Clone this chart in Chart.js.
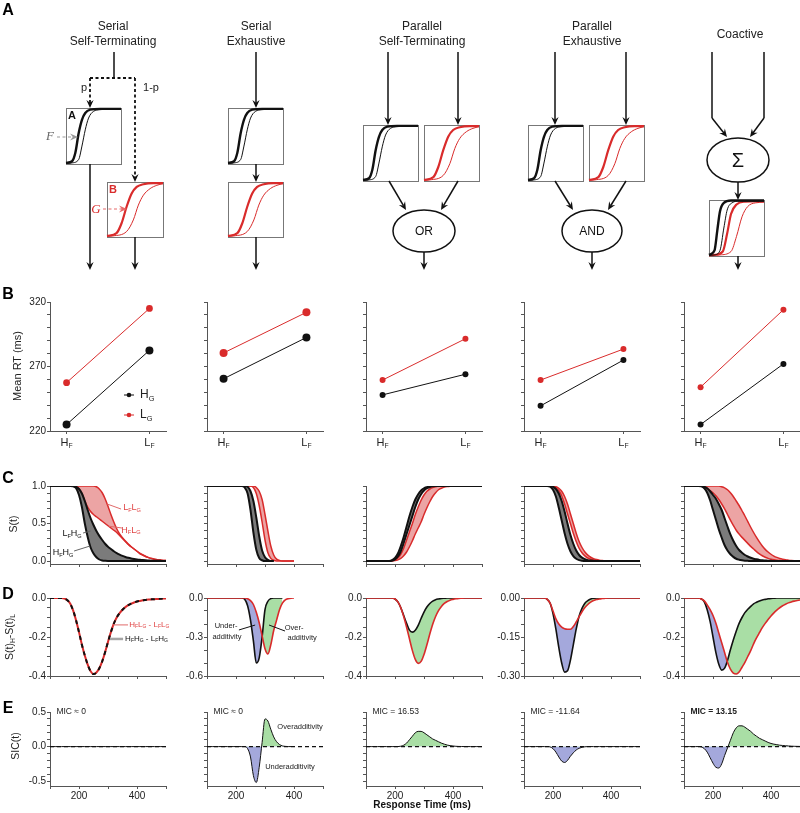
<!DOCTYPE html>
<html>
<head>
<meta charset="utf-8">
<title>Architecture predictions</title>
<script src="https://cdn.jsdelivr.net/npm/chart.js@4.4.1/dist/chart.umd.min.js"></script>
<style>
    body { margin: 0; background: #fff; }
    #fig { position: relative; width: 800px; height: 813px; overflow: hidden; font-family: "Liberation Sans", Arial, sans-serif; color: #222; }
    #fig canvas { position: absolute; }
    .lbl { position: absolute; transform: translate(-50%, -50%); white-space: nowrap; line-height: 1; }
    .lbl sub { font-size: 65%; vertical-align: -0.3em; }
    .letter { font-weight: bold; font-size: 16px; color: #000; }
    .vert { transform: translate(-50%, -50%) rotate(-90deg); font-size: 10.5px; }
</style>
</head>
<body>
<div id="fig"></div>
<script>
// ---- data ----
const MODELS = [['Serial', 'Self-Terminating'], ['Serial', 'Exhaustive'], ['Parallel', 'Self-Terminating'], ['Parallel', 'Exhaustive'], ['Coactive']];

// row B: mean RT (ms), one value per architecture
const RT_HG_HF = [225, 260.5, 248, 239.5, 225];
const RT_HG_LF = [282.5, 292.5, 264, 275, 272];
const RT_LG_HF = [257.5, 280.5, 259.5, 259.5, 254];
const RT_LG_LF = [315, 312, 291.5, 283.5, 314];
const B_TICKS = [220, 230, 240, 250, 260, 270, 280, 290, 300, 310, 320];

// time grid (ms) for rows C, D, E
const T = [100, 110, 120, 130, 140, 150, 160, 170, 180, 190,
    200, 210, 220, 230, 240, 250, 260, 270, 280, 290,
    300, 310, 320, 330, 340, 350, 360, 370, 380, 390,
    400, 410, 420, 430, 440, 450, 460, 470, 480, 490,
    500];
const X_TICKS = [100, 200, 300, 400, 500];

// row C: survivor functions S(t)
const C1_HH = [1, 1, 1, 1, 1, 1, 1, 1, 0.995, 0.97,
    0.88, 0.72, 0.5, 0.32, 0.18, 0.1, 0.05, 0.02, 0.007, 0.002,
    0, 0, 0, 0, 0, 0, 0, 0, 0, 0,
    0, 0, 0, 0, 0, 0, 0, 0, 0, 0,
    0];
const C1_LH = [1, 1, 1, 1, 1, 1, 1, 1, 1, 0.99,
    0.96, 0.9, 0.8, 0.68, 0.57, 0.48, 0.4, 0.335, 0.28, 0.23,
    0.19, 0.16, 0.13, 0.105, 0.085, 0.068, 0.054, 0.043, 0.034, 0.027,
    0.021, 0.016, 0.012, 0.009, 0.007, 0.005, 0.004, 0.003, 0.002, 0.001,
    0.001];
const C1_HL = [1, 1, 1, 1, 1, 1, 1, 1, 1, 0.99,
    0.96, 0.9, 0.8, 0.72, 0.66, 0.62, 0.59, 0.56, 0.53, 0.5,
    0.47, 0.44, 0.41, 0.38, 0.34, 0.3, 0.26, 0.22, 0.19, 0.16,
    0.13, 0.1, 0.08, 0.06, 0.045, 0.033, 0.024, 0.017, 0.012, 0.008,
    0.005];
const C1_LL = [1, 1, 1, 1, 1, 1, 1, 1, 1, 1,
    1, 1, 1, 1, 1, 1, 0.99, 0.96, 0.91, 0.83,
    0.73, 0.62, 0.52, 0.43, 0.36, 0.31, 0.265, 0.225, 0.19, 0.16,
    0.13, 0.1, 0.08, 0.06, 0.045, 0.033, 0.024, 0.017, 0.012, 0.008,
    0.005];

const C2_HH = [1, 1, 1, 1, 1, 1, 1, 1, 1, 1,
    1, 1, 1, 0.98, 0.9, 0.68, 0.38, 0.15, 0.04, 0.01,
    0, 0, 0, 0, null, null, null, null, null, null,
    null, null, null, null, null, null, null, null, null, null,
    null];
const C2_LH = [1, 1, 1, 1, 1, 1, 1, 1, 1, 1,
    1, 1, 1, 1, 0.99, 0.93, 0.8, 0.58, 0.33, 0.14,
    0.05, 0.015, 0, 0, null, null, null, null, null, null,
    null, null, null, null, null, null, null, null, null, null,
    null];
const C2_HL = [1, 1, 1, 1, 1, 1, 1, 1, 1, 1,
    1, 1, 1, 1, 1, 1, 0.98, 0.9, 0.74, 0.52,
    0.28, 0.11, 0.035, 0.01, 0, 0, 0, 0, 0, 0,
    0, null, null, null, null, null, null, null, null, null,
    null];
const C2_LL = [1, 1, 1, 1, 1, 1, 1, 1, 1, 1,
    1, 1, 1, 1, 1, 1, 1, 0.98, 0.93, 0.82,
    0.62, 0.4, 0.2, 0.08, 0.025, 0.008, 0, 0, 0, 0,
    0, null, null, null, null, null, null, null, null, null,
    null];

const C3_HH = [0, 0, 0, 0, 0, 0, 0, 0, 0, 0.01,
    0.04, 0.1, 0.2, 0.32, 0.46, 0.6, 0.72, 0.82, 0.89, 0.94,
    0.97, 0.985, 0.995, 1, 1, 1, 1, 1, 1, 1,
    1, 1, 1, 1, 1, 1, 1, 1, 1, 1,
    1];
const C3_LH = [0, 0, 0, 0, 0, 0, 0, 0, 0, 0.005,
    0.02, 0.06, 0.13, 0.24, 0.36, 0.48, 0.6, 0.72, 0.82, 0.89,
    0.94, 0.97, 0.985, 0.995, 1, 1, 1, 1, 1, 1,
    1, 1, 1, 1, 1, 1, 1, 1, 1, 1,
    1];
const C3_HL = [0, 0, 0, 0, 0, 0, 0, 0, 0, 0.005,
    0.015, 0.04, 0.09, 0.17, 0.28, 0.39, 0.5, 0.62, 0.72, 0.81,
    0.88, 0.93, 0.96, 0.98, 0.99, 1, 1, 1, 1, 1,
    1, 1, 1, 1, 1, 1, 1, 1, 1, 1,
    1];
const C3_LL = [0, 0, 0, 0, 0, 0, 0, 0, 0, 0,
    0.005, 0.015, 0.035, 0.07, 0.12, 0.19, 0.27, 0.36, 0.44, 0.52,
    0.62, 0.71, 0.79, 0.86, 0.91, 0.95, 0.97, 0.985, 0.993, 0.998,
    1, 1, 1, 1, 1, 1, 1, 1, 1, 1,
    1];

const C4_HH = [1, 1, 1, 1, 1, 1, 1, 1, 1, 0.99,
    0.95, 0.86, 0.71, 0.54, 0.37, 0.23, 0.13, 0.065, 0.03, 0.012,
    0.004, 0, 0, 0, 0, 0, 0, 0, 0, 0,
    0, 0, 0, 0, 0, 0, 0, 0, 0, 0,
    0];
const C4_LH = [1, 1, 1, 1, 1, 1, 1, 1, 1, 1,
    0.99, 0.96, 0.9, 0.8, 0.66, 0.5, 0.35, 0.23, 0.14, 0.08,
    0.045, 0.024, 0.012, 0.006, 0.003, 0.001, 0, 0, 0, 0,
    0, 0, 0, 0, 0, 0, 0, 0, 0, 0,
    0];
const C4_HL = [1, 1, 1, 1, 1, 1, 1, 1, 1, 1,
    0.995, 0.98, 0.94, 0.87, 0.76, 0.63, 0.5, 0.37, 0.26, 0.17,
    0.11, 0.068, 0.04, 0.023, 0.013, 0.007, 0.004, 0.002, 0.001, 0,
    0, 0, 0, 0, 0, 0, 0, 0, 0, 0,
    0];
const C4_LL = [1, 1, 1, 1, 1, 1, 1, 1, 1, 1,
    1, 0.99, 0.97, 0.93, 0.86, 0.76, 0.63, 0.5, 0.37, 0.26,
    0.18, 0.12, 0.078, 0.05, 0.031, 0.019, 0.011, 0.006, 0.003, 0.002,
    0.001, 0, 0, 0, 0, 0, 0, 0, 0, 0,
    0];

const C5_HH = [1, 1, 1, 1, 1, 1, 0.995, 0.97, 0.91, 0.81,
    0.68, 0.55, 0.42, 0.31, 0.21, 0.14, 0.09, 0.055, 0.03, 0.017,
    0.009, 0.004, 0.002, 0, 0, 0, 0, 0, 0, 0,
    0, 0, 0, 0, 0, 0, 0, 0, 0, 0,
    0];
const C5_LH = [1, 1, 1, 1, 1, 1, 1, 0.99, 0.97, 0.93,
    0.88, 0.83, 0.76, 0.68, 0.57, 0.46, 0.355, 0.27, 0.2, 0.147,
    0.11, 0.08, 0.06, 0.043, 0.03, 0.022, 0.015, 0.01, 0.007, 0.004,
    0.002, 0, 0, 0, 0, 0, 0, 0, 0, 0,
    0];
const C5_HL = [1, 1, 1, 1, 1, 1, 1, 0.99, 0.965, 0.94,
    0.91, 0.87, 0.82, 0.76, 0.695, 0.62, 0.545, 0.475, 0.41, 0.36,
    0.315, 0.275, 0.235, 0.195, 0.16, 0.125, 0.095, 0.07, 0.05, 0.035,
    0.024, 0.016, 0.01, 0.006, 0.004, 0.002, 0.001, 0, 0, 0,
    0];
const C5_LL = [1, 1, 1, 1, 1, 1, 1, 1, 1, 1,
    1, 1, 1, 0.99, 0.975, 0.95, 0.91, 0.86, 0.8, 0.74,
    0.67, 0.6, 0.525, 0.45, 0.38, 0.315, 0.255, 0.2, 0.155, 0.12,
    0.09, 0.066, 0.048, 0.034, 0.024, 0.016, 0.011, 0.007, 0.004, 0.002,
    0.001];
const C_TICKS = [0, 0.1, 0.2, 0.3, 0.4, 0.5, 0.6, 0.7, 0.8, 0.9, 1];

// row D: S(t)H - S(t)L, black = HG pair, red = LG pair
const D1_H = [0, 0, 0, 0, 0, -0.003, -0.012, -0.03, -0.065, -0.115,
    -0.175, -0.24, -0.295, -0.342, -0.376, -0.39, -0.382, -0.36, -0.325, -0.278,
    -0.225, -0.175, -0.132, -0.1, -0.078, -0.06, -0.047, -0.037, -0.029, -0.023,
    -0.018, -0.015, -0.012, -0.01, -0.008, -0.007, -0.006, -0.005, -0.004, -0.003,
    -0.003];
const D1_L = [0, 0, 0, 0, 0, -0.003, -0.012, -0.03, -0.065, -0.115,
    -0.175, -0.24, -0.295, -0.342, -0.376, -0.39, -0.382, -0.36, -0.325, -0.278,
    -0.225, -0.175, -0.132, -0.1, -0.078, -0.06, -0.047, -0.037, -0.029, -0.023,
    -0.018, -0.015, -0.012, -0.01, -0.008, -0.007, -0.006, -0.005, -0.004, -0.003,
    -0.003];
const D2_H = [0, 0, 0, 0, 0, 0, 0, 0, 0, 0,
    0, 0, 0, -0.01, -0.06, -0.17, -0.33, -0.5, -0.46, -0.3,
    -0.09, -0.025, -0.005, 0, 0, 0, 0, null, null, null,
    null, null, null, null, null, null, null, null, null, null,
    null];
const D2_L = [0, 0, 0, 0, 0, 0, 0, 0, 0, 0,
    0, 0, 0, 0, -0.005, -0.02, -0.05, -0.11, -0.19, -0.29,
    -0.39, -0.43, -0.36, -0.25, -0.17, -0.09, -0.04, -0.015, -0.005, -0.001,
    0, null, null, null, null, null, null, null, null, null,
    null];
const D3_H = [0, 0, 0, 0, 0, 0, 0, 0, 0, 0,
    -0.005, -0.02, -0.05, -0.09, -0.13, -0.165, -0.175, -0.165, -0.14, -0.105,
    -0.072, -0.046, -0.028, -0.016, -0.009, -0.005, -0.002, -0.001, 0, 0,
    0, 0, 0, 0, 0, 0, 0, 0, 0, 0,
    0];
const D3_L = [0, 0, 0, 0, 0, 0, 0, 0, 0, 0,
    -0.005, -0.02, -0.05, -0.095, -0.15, -0.21, -0.27, -0.315, -0.335, -0.325,
    -0.29, -0.24, -0.185, -0.135, -0.095, -0.065, -0.043, -0.028, -0.018, -0.011,
    -0.007, -0.004, -0.002, -0.001, 0, 0, 0, 0, 0, 0,
    0];
const D4_H = [0, 0, 0, 0, 0, 0, 0, 0, -0.005, -0.02,
    -0.06, -0.12, -0.19, -0.25, -0.285, -0.28, -0.24, -0.18, -0.12, -0.07,
    -0.04, -0.02, -0.01, -0.004, -0.001, 0, 0, 0, 0, 0,
    0, 0, 0, 0, 0, 0, 0, 0, 0, 0,
    0];
const D4_L = [0, 0, 0, 0, 0, 0, 0, 0, -0.005, -0.02,
    -0.05, -0.08, -0.1, -0.112, -0.118, -0.12, -0.12, -0.11, -0.092, -0.072,
    -0.053, -0.037, -0.025, -0.016, -0.01, -0.006, -0.004, -0.002, -0.001, 0,
    0, 0, 0, 0, 0, 0, 0, 0, 0, 0,
    0];
const D5_H = [0, 0, 0, 0, 0, 0, -0.005, -0.02, -0.06, -0.12,
    -0.2, -0.28, -0.34, -0.37, -0.36, -0.32, -0.265, -0.215, -0.17, -0.13,
    -0.1, -0.075, -0.058, -0.043, -0.03, -0.022, -0.015, -0.01, -0.007, -0.004,
    -0.002, -0.001, 0, 0, 0, 0, 0, 0, 0, 0,
    0];
const D5_L = [0, 0, 0, 0, 0, 0, -0.005, -0.015, -0.035, -0.06,
    -0.09, -0.13, -0.18, -0.23, -0.28, -0.33, -0.365, -0.385, -0.39, -0.38,
    -0.355, -0.33, -0.3, -0.27, -0.235, -0.205, -0.178, -0.152, -0.13, -0.11,
    -0.092, -0.076, -0.062, -0.05, -0.04, -0.032, -0.025, -0.02, -0.016, -0.013,
    -0.01];
const D_MIN = [-0.4, -0.6, -0.4, -0.3, -0.4];
const D_TICKS = [
    [0, -0.05, -0.1, -0.15, -0.2, -0.25, -0.3, -0.35, -0.4],
    [0, -0.1, -0.2, -0.3, -0.4, -0.5, -0.6],
    [0, -0.05, -0.1, -0.15, -0.2, -0.25, -0.3, -0.35, -0.4],
    [0, -0.05, -0.1, -0.15, -0.2, -0.25, -0.3],
    [0, -0.05, -0.1, -0.15, -0.2, -0.25, -0.3, -0.35, -0.4]
];
const D_LABELS = [
    {0: '0.0', '-0.2': '-0.2', '-0.4': '-0.4'},
    {0: '0.0', '-0.3': '-0.3', '-0.6': '-0.6'},
    {0: '0.0', '-0.2': '-0.2', '-0.4': '-0.4'},
    {0: '0.00', '-0.15': '-0.15', '-0.3': '-0.30'},
    {0: '0.0', '-0.2': '-0.2', '-0.4': '-0.4'}
];

// row E: survivor interaction contrast
const E1 = [0, 0, 0, 0, 0, 0, 0, 0, 0, 0,
    0, 0, 0, 0, 0, 0, 0, 0, 0, 0,
    0, 0, 0, 0, 0, 0, 0, 0, 0, 0,
    0, 0, 0, 0, 0, 0, 0, 0, 0, 0,
    0];
const E2 = [0, 0, 0, 0, 0, 0, 0, 0, 0, 0,
    0, 0, 0, 0, -0.03, -0.15, -0.42, -0.52, -0.3, 0.06,
    0.4, 0.37, 0.25, 0.14, 0.07, 0.03, 0.01, 0.003, 0, 0,
    null, null, null, null, null, null, null, null, null, null,
    null];
const E3 = [0, 0, 0, 0, 0, 0, 0, 0, 0, 0,
    0, 0, 0.005, 0.02, 0.05, 0.1, 0.15, 0.2, 0.22, 0.22,
    0.2, 0.17, 0.14, 0.11, 0.09, 0.07, 0.05, 0.035, 0.022, 0.014,
    0.008, 0.004, 0.002, 0.001, 0, 0, 0, 0, 0, 0,
    0];
const E4 = [0, 0, 0, 0, 0, 0, 0, 0, 0, -0.005,
    -0.03, -0.08, -0.15, -0.21, -0.23, -0.2, -0.14, -0.09, -0.05, -0.025,
    -0.01, -0.003, 0, 0, 0, 0, 0, 0, 0, 0,
    0, 0, 0, 0, 0, 0, 0, 0, 0, 0,
    0];
const E5 = [0, 0, 0, 0, 0, 0, -0.005, -0.03, -0.08, -0.16,
    -0.24, -0.3, -0.31, -0.25, -0.13, -0.02, 0.09, 0.2, 0.27, 0.3,
    0.3, 0.28, 0.25, 0.22, 0.18, 0.15, 0.12, 0.1, 0.08, 0.06,
    0.045, 0.035, 0.028, 0.02, 0.016, 0.012, 0.009, 0.006, 0.004, 0.003,
    0.002];
const E_TICKS = [-0.5, -0.4, -0.3, -0.2, -0.1, 0, 0.1, 0.2, 0.3, 0.4, 0.5];
const MIC = ['MIC \u2248 0', 'MIC \u2248 0', 'MIC = 16.53', 'MIC = -11.64', 'MIC = 13.15'];

// ---- layout and style ----
const BLACK = '#111', RED = '#d92b2b', AXIS = '#555';
const GRAY_FILL = '#7b7b7b', PINK_FILL = '#eca4a4', GREEN_FILL = '#a9dea5', BLUE_FILL = '#a4a8dc';
const FONT = '"Liberation Sans", Arial, sans-serif';
const COL_X = [50, 207, 366, 524, 684];
const PLOT_W = 116, YW = 40, PAD_T = 8, PAD_R = 6;
const ROWS = {
    B: {top: 302, h: 129, xh: 22},
    C: {top: 486, h: 78, xh: 8},
    D: {top: 598, h: 78, xh: 8},
    E: {top: 712, h: 74, xh: 20}
};
const DOT_R = [4, 4, 3, 3, 3];

Chart.defaults.font.family = FONT;
Chart.defaults.font.size = 10;
Chart.defaults.color = '#222';

const fig = document.getElementById('fig');

const addCanvas = function (left, top, w, h) {
    const c = document.createElement('canvas');
    c.width = w; c.height = h;
    c.style.left = left + 'px'; c.style.top = top + 'px';
    c.style.width = w + 'px'; c.style.height = h + 'px';
    fig.appendChild(c);
    return c;
};

const addText = function (html, x, y, cls, css) {
    const el = document.createElement('div');
    el.className = 'lbl ' + (cls || '');
    el.innerHTML = html;
    el.style.left = x + 'px';
    el.style.top = y + 'px';
    Object.assign(el.style, css || {});
    fig.appendChild(el);
};

// text where "_X" makes X a subscript
const drawSub = function (ctx, text, x, y, size, color, align, bold) {
    const parts = [];
    for (let i = 0; i < text.length; i++) {
        if (text[i] === '_') { parts.push([text[i + 1], true]); i++; }
        else parts.push([text[i], false]);
    }
    const w8 = bold ? 'bold ' : '';
    const big = w8 + size + 'px ' + FONT;
    const small = w8 + (size * 0.62).toFixed(1) + 'px ' + FONT;
    let w = 0;
    parts.forEach(p => { ctx.font = p[1] ? small : big; w += ctx.measureText(p[0]).width; });
    let cx = align === 'left' ? x : align === 'right' ? x - w : x - w / 2;
    ctx.fillStyle = color;
    ctx.textBaseline = 'middle';
    ctx.textAlign = 'left';
    parts.forEach(p => {
        ctx.font = p[1] ? small : big;
        ctx.fillText(p[0], cx, p[1] ? y + size * 0.32 : y);
        cx += ctx.measureText(p[0]).width;
    });
};

// annotations placed in data units of each panel
const extras = {
    id: 'extras',
    afterDatasetsDraw(chart, args, opts) {
        const ctx = chart.ctx, xs = chart.scales.x, ys = chart.scales.y;
        if (!xs || !ys || !opts) return;
        const X = v => xs.getPixelForValue(v), Y = v => ys.getPixelForValue(v);
        ctx.save();
        (opts.leaders || []).forEach(l => {
            ctx.strokeStyle = l.color;
            ctx.lineWidth = l.width || 1;
            ctx.beginPath();
            ctx.moveTo(X(l.from[0]), Y(l.from[1]));
            ctx.lineTo(X(l.to[0]), Y(l.to[1]));
            ctx.stroke();
        });
        (opts.dots || []).forEach(d => {
            ctx.fillStyle = d.color;
            ctx.beginPath();
            ctx.arc(X(d.at[0]), Y(d.at[1]), d.r, 0, Math.PI * 2);
            ctx.fill();
        });
        (opts.notes || []).forEach(n => {
            drawSub(ctx, n.text, X(n.at[0]), Y(n.at[1]), n.size, n.color || '#222', n.align, n.bold);
        });
        if (opts.xSub) {
            opts.xSub.forEach((s, i) => drawSub(ctx, s, X(i), chart.chartArea.bottom + 12, 11, '#222', 'center'));
        }
        ctx.restore();
    }
};
Chart.register(extras);

const axis = function (min, max, ticks, labels, fitSize, showLabels) {
    return {
        type: 'linear', min: min, max: max,
        afterBuildTicks: s => { s.ticks = ticks.map(v => ({value: v})); },
        afterFit: s => { if (s.isHorizontal()) s.height = fitSize; else s.width = fitSize; },
        grid: {drawOnChartArea: false, drawTicks: true, tickLength: 3, color: AXIS},
        border: {display: true, color: AXIS},
        ticks: {display: showLabels, autoSkip: false, maxRotation: 0, padding: 1, color: '#222', font: {size: 10},
            callback: v => (labels && labels[v] !== undefined) ? labels[v] : ''}
    };
};

const makePanel = function (col, row, datasets, yAxis, xAxis, extra) {
    const r = ROWS[row];
    const canvas = addCanvas(COL_X[col] - YW, r.top - PAD_T, YW + PLOT_W + PAD_R, PAD_T + r.h + r.xh);
    return new Chart(canvas, {
        type: 'line',
        data: {datasets: datasets},
        options: {
            responsive: false, animation: false, devicePixelRatio: 1,
            layout: {padding: {top: PAD_T, right: PAD_R, left: 0, bottom: 0}},
            elements: {point: {radius: 0}, line: {cubicInterpolationMode: 'monotone'}},
            plugins: {legend: {display: false}, tooltip: {enabled: false},
                filler: {propagate: false, drawTime: 'beforeDatasetsDraw'}, extras: extra || {}},
            scales: {x: xAxis, y: yAxis}
        }
    });
};

const pts = function (vals) {
    return T.map((t, i) => ({x: t, y: vals[i]}));
};

const line = function (vals, color, width, extra) {
    return Object.assign({data: pts(vals), borderColor: color, borderWidth: width, pointRadius: 0, fill: false, spanGaps: false}, extra || {});
};

// ---- row B ----
const makeMeanPanel = function (col) {
    const labels = col === 0 ? {220: '220', 270: '270', 320: '320'} : {};
    const extra = {xSub: ['H_F', 'L_F']};
    if (col === 0) {
        extra.leaders = [{from: [0.693, 247.9], to: [0.814, 247.9], color: BLACK}, {from: [0.693, 232.4], to: [0.814, 232.4], color: RED}];
        extra.dots = [{at: [0.753, 247.9], r: 2.3, color: BLACK}, {at: [0.753, 232.4], r: 2.3, color: RED}];
        extra.notes = [{text: 'H_G', at: [0.886, 247.9], size: 12, align: 'left'}, {text: 'L_G', at: [0.886, 232.4], size: 12, align: 'left'}];
    }
    const ds = [
        {data: [{x: 0, y: RT_HG_HF[col]}, {x: 1, y: RT_HG_LF[col]}], borderColor: BLACK, backgroundColor: BLACK, borderWidth: 1, pointRadius: DOT_R[col], pointBorderWidth: 0},
        {data: [{x: 0, y: RT_LG_HF[col]}, {x: 1, y: RT_LG_LF[col]}], borderColor: RED, backgroundColor: RED, borderWidth: 1, pointRadius: DOT_R[col] - (col === 0 ? 0.6 : 0), pointBorderWidth: 0}
    ];
    makePanel(col, 'B', ds, axis(220, 320, B_TICKS, labels, YW, col === 0), axis(-0.2, 1.2, [0, 1], null, ROWS.B.xh, false), extra);
};

// ---- row C ----
const C_DATA = [[C1_HH, C1_LH, C1_HL, C1_LL], [C2_HH, C2_LH, C2_HL, C2_LL], [C3_HH, C3_LH, C3_HL, C3_LL], [C4_HH, C4_LH, C4_HL, C4_LL], [C5_HH, C5_LH, C5_HL, C5_LL]];

const makeSurvivorPanel = function (col) {
    const s = C_DATA[col];
    const ds = [
        line(s[0], BLACK, 2, {fill: '+1', backgroundColor: GRAY_FILL}),
        line(s[1], BLACK, 2),
        line(s[2], RED, 1.5, {fill: '+1', backgroundColor: PINK_FILL}),
        line(s[3], RED, 1.5)
    ];
    let extra = {};
    if (col === 0) {
        extra = {
            leaders: [
                {from: [297, 0.76], to: [345, 0.693], color: '#e06a6a'},
                {from: [302, 0.465], to: [348, 0.44], color: '#e06a6a'},
                {from: [214, 0.373], to: [240, 0.4], color: '#666'},
                {from: [183, 0.133], to: [238, 0.2], color: '#666'}
            ],
            notes: [
                {text: 'L_FL_G', at: [383, 0.707], size: 9, color: '#e04545'},
                {text: 'H_FL_G', at: [379, 0.413], size: 9, color: '#e04545'},
                {text: 'L_FH_G', at: [176, 0.36], size: 9, color: '#111'},
                {text: 'H_FH_G', at: [145, 0.107], size: 9, color: '#111'}
            ]
        };
    }
    const labels = col === 0 ? {0: '0.0', 0.5: '0.5', 1: '1.0'} : {};
    makePanel(col, 'C', ds, axis(-0.04, 1, C_TICKS, labels, YW, col === 0), axis(100, 500, X_TICKS, null, ROWS.C.xh, false), extra);
};

// ---- row D ----
const D_DATA = [[D1_H, D1_L], [D2_H, D2_L], [D3_H, D3_L], [D4_H, D4_L], [D5_H, D5_L]];

const makeDiffPanel = function (col) {
    const d = D_DATA[col];
    let ds, extra = {};
    if (col === 0) {
        ds = [line(d[0], BLACK, 2, {borderDash: [4, 4]}), line(d[1], RED, 2)];
        extra = {
            leaders: [
                {from: [317, -0.138], to: [369, -0.138], color: '#e06a6a'},
                {from: [307, -0.21], to: [352, -0.21], color: '#a5a5a5', width: 2.5}
            ],
            notes: [
                {text: 'H_FL_G - L_FL_G', at: [373, -0.135], size: 8, color: '#e04545', align: 'left'},
                {text: 'H_FH_G - L_FH_G', at: [359, -0.208], size: 8, color: '#111', align: 'left'}
            ]
        };
    } else {
        // red on top; band blue where HG curve dips deeper, green where LG dips deeper
        ds = [line(d[1], RED, 1.6, {fill: {target: 1, above: BLUE_FILL, below: GREEN_FILL}}), line(d[0], BLACK, 1.6)];
    }
    if (col === 1) {
        extra = {
            leaders: [
                {from: [210, -0.246], to: [266, -0.208], color: BLACK},
                {from: [314, -0.208], to: [369, -0.254], color: BLACK}
            ],
            notes: [
                {text: 'Under-', at: [166, -0.215], size: 7.5},
                {text: 'additivity', at: [169, -0.3], size: 7.5},
                {text: 'Over-', at: [400, -0.231], size: 7.5},
                {text: 'additivity', at: [428, -0.308], size: 7.5}
            ]
        };
    }
    makePanel(col, 'D', ds, axis(D_MIN[col], 0, D_TICKS[col], D_LABELS[col], YW, true), axis(100, 500, X_TICKS, null, ROWS.D.xh, false), extra);
};

// ---- row E ----
const E_DATA = [E1, E2, E3, E4, E5];

const makeSicPanel = function (col) {
    const zero = T.map(t => ({x: t, y: 0}));
    const ds = [
        line(E_DATA[col], BLACK, 1, {fill: {target: {value: 0}, above: GREEN_FILL, below: BLUE_FILL}}),
        {data: zero, borderColor: BLACK, borderWidth: 1.2, borderDash: [4, 3], pointRadius: 0, fill: false}
    ];
    const extra = {notes: [{text: MIC[col], at: [122, 0.5], size: 8.5, align: 'left', bold: col === 4}]};
    if (col === 1) {
        extra.notes.push({text: 'Overadditivity', at: [421, 0.28], size: 7.5});
        extra.notes.push({text: 'Underadditivity', at: [386, -0.3], size: 7.5});
    }
    const labels = col === 0 ? {'-0.5': '-0.5', 0: '0.0', 0.5: '0.5'} : {};
    makePanel(col, 'E', ds, axis(-0.57, 0.5, E_TICKS, labels, YW, col === 0), axis(100, 500, X_TICKS, {200: '200', 400: '400'}, ROWS.E.xh, true), extra);
};

// ---- row A: architecture diagrams ----
const TITLE_X = [113, 256, 422, 592, 740];
const BOXES = [
    [66, 108, 55, 56, 'black'], [107, 182, 56, 55, 'red'],
    [228, 108, 55, 56, 'black'], [228, 182, 55, 55, 'red'],
    [363, 125, 55, 56, 'black'], [424, 125, 55, 56, 'red'],
    [528, 125, 55, 56, 'black'], [589, 125, 55, 56, 'red'],
    [709, 200, 55, 56, 'both']
];
// x1, y1, x2, y2, style (s solid, d dashed, g grey dashed, r red dashed), arrow head
const SEGMENTS = [
    [114, 52, 114, 78, 's', false], [90, 78, 135, 78, 'd', false],
    [90, 78, 90, 108, 'd', true], [135, 78, 135, 182, 'd', true],
    [90, 164, 90, 270, 's', true], [135, 237, 135, 270, 's', true],
    [57, 137, 78, 137, 'g', true], [103, 209, 127, 209, 'r', true],
    [256, 52, 256, 108, 's', true], [256, 164, 256, 182, 's', true], [256, 237, 256, 270, 's', true],
    [388, 52, 388, 125, 's', true], [458, 52, 458, 125, 's', true],
    [389, 181, 406, 210, 's', true], [458, 181, 441, 210, 's', true], [424, 252, 424, 270, 's', true],
    [555, 52, 555, 125, 's', true], [626, 52, 626, 125, 's', true],
    [555, 181, 573, 210, 's', true], [626, 181, 608, 210, 's', true], [592, 252, 592, 270, 's', true],
    [712, 52, 712, 118, 's', false], [712, 118, 727, 137, 's', true],
    [764, 52, 764, 118, 's', false], [764, 118, 750, 137, 's', true],
    [738, 182, 738, 200, 's', true], [738, 256, 738, 270, 's', true]
];
const ELLIPSES = [[424, 231, 31, 21, 'OR', 12], [592, 231, 30, 21, 'AND', 12], [738, 160, 31, 22, '\u03A3', 20]];
const DIAGRAM_TEXT = [
    ['p', 84, 88, '11px ' + FONT, '#222'], ['1-p', 151, 88, '11px ' + FONT, '#222'],
    ['A', 72, 116, 'bold 11px ' + FONT, '#111'], ['B', 113, 190, 'bold 11px ' + FONT, RED],
    ['F', 50, 137, 'italic 13px "Liberation Serif", serif', '#666'], ['G', 96, 210, 'italic 13px "Liberation Serif", serif', RED]
];
// mini CDF sketches inside the boxes: [x fraction, height fraction]
const MINI_BLACK = [[0, 0.02], [0.11, 0.05], [0.17, 0.2], [0.23, 0.55], [0.29, 0.79], [0.35, 0.91], [0.44, 0.97], [0.62, 0.985], [1, 0.985]];
const MINI_BLACK_THIN = [[0, 0.01], [0.11, 0.02], [0.23, 0.08], [0.29, 0.32], [0.35, 0.61], [0.41, 0.82], [0.5, 0.94], [0.62, 0.97], [0.81, 0.98], [1, 0.98]];
const MINI_RED = [[0, 0.02], [0.17, 0.07], [0.26, 0.25], [0.35, 0.55], [0.44, 0.79], [0.53, 0.91], [0.65, 0.96], [0.83, 0.98], [1, 0.98]];
const MINI_RED_THIN = [[0, 0.01], [0.11, 0.02], [0.35, 0.1], [0.47, 0.31], [0.56, 0.58], [0.65, 0.76], [0.77, 0.88], [0.89, 0.94], [1, 0.97]];
const MINI_CO_BLACK = [[0, 0.02], [0.1, 0.1], [0.15, 0.45], [0.2, 0.8], [0.27, 0.95], [0.4, 0.99], [1, 0.99]];
const MINI_CO_BLACK_THIN = [[0, 0.01], [0.1, 0.02], [0.2, 0.1], [0.27, 0.5], [0.33, 0.82], [0.42, 0.95], [0.55, 0.98], [1, 0.98]];
const MINI_CO_RED = [[0, 0.01], [0.1, 0.02], [0.25, 0.08], [0.33, 0.4], [0.4, 0.75], [0.5, 0.92], [0.65, 0.97], [1, 0.98]];
const MINI_CO_RED_THIN = [[0, 0.01], [0.2, 0.02], [0.4, 0.08], [0.5, 0.35], [0.6, 0.7], [0.7, 0.88], [0.85, 0.95], [1, 0.96]];

const miniSet = function (box, shape, color, width) {
    return {
        data: shape.map(p => ({x: box[0] + p[0] * box[2], y: box[1] + (1 - p[1]) * box[3]})),
        borderColor: color, borderWidth: width, pointRadius: 0, fill: false, cubicInterpolationMode: 'monotone'
    };
};

const arrowHead = function (ctx, x1, y1, x2, y2, color) {
    const a = Math.atan2(y2 - y1, x2 - x1), len = 8, half = 3.6;
    const c = Math.cos(a), s = Math.sin(a);
    ctx.fillStyle = color;
    ctx.beginPath();
    ctx.moveTo(x2, y2);
    ctx.lineTo(x2 - len * c + half * s, y2 - len * s - half * c);
    ctx.lineTo(x2 - 0.65 * len * c, y2 - 0.65 * len * s);
    ctx.lineTo(x2 - len * c - half * s, y2 - len * s + half * c);
    ctx.closePath();
    ctx.fill();
};

const diagram = {
    id: 'diagram',
    beforeDatasetsDraw(chart) {
        const ctx = chart.ctx, X = v => chart.scales.x.getPixelForValue(v), Y = v => chart.scales.y.getPixelForValue(v);
        ctx.save();
        ctx.fillStyle = '#fff';
        ctx.strokeStyle = '#777';
        ctx.lineWidth = 1;
        BOXES.forEach(b => {
            ctx.fillRect(X(b[0]), Y(b[1]), X(b[0] + b[2]) - X(b[0]), Y(b[1] + b[3]) - Y(b[1]));
            ctx.strokeRect(X(b[0]) + 0.5, Y(b[1]) + 0.5, X(b[0] + b[2]) - X(b[0]), Y(b[1] + b[3]) - Y(b[1]));
        });
        ctx.restore();
    },
    afterDatasetsDraw(chart) {
        const ctx = chart.ctx, X = v => chart.scales.x.getPixelForValue(v), Y = v => chart.scales.y.getPixelForValue(v);
        ctx.save();
        SEGMENTS.forEach(sg => {
            const color = sg[4] === 'g' ? '#999' : sg[4] === 'r' ? '#e86a6a' : BLACK;
            const x1 = X(sg[0]), y1 = Y(sg[1]), x2 = X(sg[2]), y2 = Y(sg[3]);
            const a = Math.atan2(y2 - y1, x2 - x1), cut = sg[5] ? 5 : 0;
            ctx.strokeStyle = color;
            ctx.lineWidth = sg[4] === 's' ? 1.5 : sg[4] === 'd' ? 1.8 : 1.2;
            ctx.setLineDash(sg[4] === 's' ? [] : [3, 2.5]);
            ctx.beginPath();
            ctx.moveTo(x1, y1);
            ctx.lineTo(x2 - cut * Math.cos(a), y2 - cut * Math.sin(a));
            ctx.stroke();
            if (sg[5]) arrowHead(ctx, x1, y1, x2, y2, color);
        });
        ctx.setLineDash([]);
        ELLIPSES.forEach(e => {
            ctx.strokeStyle = BLACK;
            ctx.lineWidth = 1.5;
            ctx.beginPath();
            ctx.ellipse(X(e[0]), Y(e[1]), X(e[0] + e[2]) - X(e[0]), Y(e[1] + e[3]) - Y(e[1]), 0, 0, Math.PI * 2);
            ctx.stroke();
            ctx.fillStyle = '#111';
            ctx.font = e[5] + 'px ' + FONT;
            ctx.textAlign = 'center';
            ctx.textBaseline = 'middle';
            ctx.fillText(e[4], X(e[0]), Y(e[1]) + 1);
        });
        DIAGRAM_TEXT.forEach(t => {
            ctx.font = t[3];
            ctx.fillStyle = t[4];
            ctx.textAlign = 'center';
            ctx.textBaseline = 'middle';
            ctx.fillText(t[0], X(t[1]), Y(t[2]));
        });
        ctx.font = '12px ' + FONT;
        ctx.fillStyle = '#222';
        MODELS.forEach((m, i) => {
            if (m.length === 1) ctx.fillText(m[0], X(TITLE_X[i]), Y(35));
            else { ctx.fillText(m[0], X(TITLE_X[i]), Y(27)); ctx.fillText(m[1], X(TITLE_X[i]), Y(42)); }
        });
        ctx.restore();
    }
};

const makeDiagram = function () {
    const sets = [];
    BOXES.forEach(b => {
        if (b[4] === 'black') { sets.push(miniSet(b, MINI_BLACK, BLACK, 2.4)); sets.push(miniSet(b, MINI_BLACK_THIN, BLACK, 1)); }
        if (b[4] === 'red') { sets.push(miniSet(b, MINI_RED, RED, 2.2)); sets.push(miniSet(b, MINI_RED_THIN, RED, 1)); }
        if (b[4] === 'both') {
            sets.push(miniSet(b, MINI_CO_BLACK, BLACK, 2.4)); sets.push(miniSet(b, MINI_CO_BLACK_THIN, BLACK, 1));
            sets.push(miniSet(b, MINI_CO_RED, RED, 2.2)); sets.push(miniSet(b, MINI_CO_RED_THIN, RED, 1));
        }
    });
    const canvas = addCanvas(0, 0, 800, 275);
    new Chart(canvas, {
        type: 'line',
        data: {datasets: sets},
        options: {
            responsive: false, animation: false, devicePixelRatio: 1,
            layout: {padding: 0},
            plugins: {legend: {display: false}, tooltip: {enabled: false}},
            scales: {
                x: {type: 'linear', min: 0, max: 800, display: false},
                y: {type: 'linear', min: 0, max: 275, reverse: true, display: false}
            }
        },
        plugins: [diagram]
    });
};

// ---- assemble ----
makeDiagram();
for (let i = 0; i < 5; i++) {
    makeMeanPanel(i);
    makeSurvivorPanel(i);
    makeDiffPanel(i);
    makeSicPanel(i);
}

addText('A', 8, 10, 'letter');
addText('B', 8, 294, 'letter');
addText('C', 8, 478, 'letter');
addText('D', 8, 594, 'letter');
addText('E', 8, 708, 'letter');
addText('Mean RT (ms)', 17, 366, 'vert', {fontSize: '11px'});
addText('S(t)', 13, 524, 'vert');
addText('S(t)<sub>H</sub>-S(t)<sub>L</sub>', 10, 637, 'vert');
addText('SIC(t)', 15, 746, 'vert');
addText('Response Time (ms)', 422, 805, '', {fontWeight: 'bold', fontSize: '10px', color: '#111'});
</script>
</body>
</html>
